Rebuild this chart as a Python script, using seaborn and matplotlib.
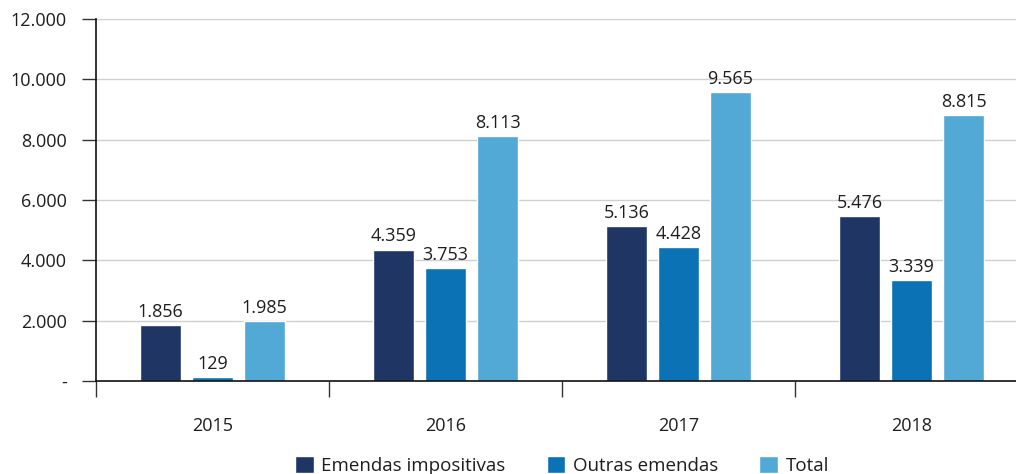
import pandas as pd
import matplotlib
matplotlib.use("Agg")
import matplotlib.pyplot as plt
import seaborn as sns
from matplotlib.ticker import FixedLocator, FuncFormatter

anos = ["2015", "2016", "2017", "2018"]
series = ["Emendas impositivas", "Outras emendas", "Total"]
impositivas = [1856, 4359, 5136, 5476]
outras = [129, 3753, 4428, 3339]
total = [1985, 8113, 9565, 8815]
cores = ["#1f3564", "#0b72b5", "#52a9d6"]

sns.set_theme(style="white")
plt.rcParams["font.family"] = ["Open Sans", "DejaVu Sans"]
plt.rcParams["text.color"] = "#1e1e1e"

rows = []
for i, ano in enumerate(anos):
    for nome, vals in zip(series, [impositivas, outras, total]):
        rows.append({"ano": ano, "serie": nome, "valor": vals[i]})
df = pd.DataFrame(rows)

fig = plt.figure(figsize=(10.16, 4.74), dpi=100)
ax = fig.add_axes([96 / 1016, 93 / 474, 920 / 1016, 362 / 474])

sns.barplot(data=df, x="ano", y="valor", hue="serie", palette=cores,
            width=0.67, gap=0.21, ax=ax, legend=True, saturation=1)

def fmt(v):
    return f"{int(v):,}".replace(",", ".")

for cont in ax.containers:
    ax.bar_label(cont, labels=[fmt(b.get_height()) for b in cont],
                 padding=3, fontsize=13, color="#1e1e1e")

ax.set_ylim(0, 12000)
ax.set_xlim(-0.5, 920 / 233 - 0.5)
ax.set_yticks(range(0, 12001, 2000))
ax.yaxis.set_major_formatter(FuncFormatter(lambda v, p: "-" if v == 0 else fmt(v)))
ax.yaxis.grid(True, color="#d0d0d0", linewidth=1)
ax.set_axisbelow(True)

ax.set_xlabel("")
ax.set_ylabel("")
ax.xaxis.set_minor_locator(FixedLocator([-0.5, 0.5, 1.5, 2.5]))
ax.tick_params(axis="x", which="major", length=0, pad=26, labelsize=13, labelcolor="#1e1e1e")
ax.tick_params(axis="x", which="minor", length=11.5, width=1, color="#333333", bottom=True, direction="out")
ax.tick_params(axis="y", length=10, width=1, color="#333333", left=True, direction="out",
               pad=11, labelsize=13, labelcolor="#1e1e1e")

for s in ["top", "right"]:
    ax.spines[s].set_visible(False)
ax.spines["left"].set_color("#111111")
ax.spines["bottom"].set_color("#111111")
ax.spines["left"].set_linewidth(1.2)
ax.spines["bottom"].set_linewidth(1.2)

handles, labels = ax.get_legend_handles_labels()
ax.get_legend().remove()
fig.legend(handles, labels, loc="center", bbox_to_anchor=(0.553, 0.018), ncol=3,
           frameon=False, fontsize=13.5, handlelength=1.0, handleheight=1.0,
           handletextpad=0.4, columnspacing=2.2)

fig.savefig("out.png", dpi=100)
